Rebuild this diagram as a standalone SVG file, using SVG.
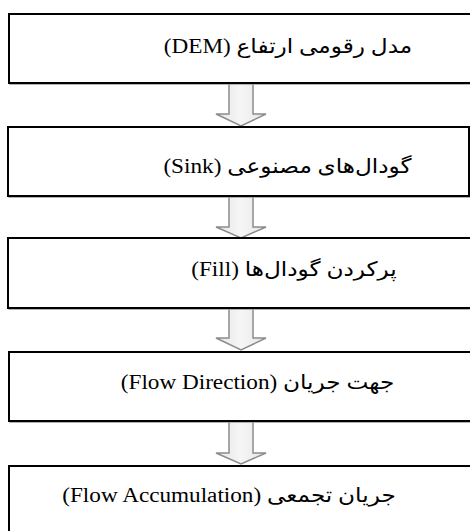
<svg xmlns="http://www.w3.org/2000/svg" width="470" height="531" viewBox="0 0 470 531">
<style>
.box{fill:#ffffff;stroke:#000000;stroke-width:2}
.shadow{fill:none;stroke:#9a9a9a;stroke-width:1.5}
.lbl{font-family:"Liberation Serif","DejaVu Serif","DejaVu Sans",serif;font-size:20px;fill:#000000;direction:rtl;text-anchor:middle}
.arrow{fill:url(#ag);stroke:#8c8c8c;stroke-width:1.5;stroke-linejoin:miter}
</style>
<defs>
<linearGradient id="ag" x1="0" y1="0" x2="1" y2="0">
<stop offset="0" stop-color="#e4e4e4"/>
<stop offset="0.5" stop-color="#f6f6f6"/>
<stop offset="1" stop-color="#e4e4e4"/>
</linearGradient>
</defs>
<rect width="470" height="531" fill="#ffffff"/>
<g id="connectors">
<path class="arrow" d="M229,83 H253 V114 H266 L241,126 L216,114 H229 Z"/>
<path class="arrow" d="M229,196 H253 V227 H266 L241,238 L216,227 H229 Z"/>
<path class="arrow" d="M229,308 H253 V338 H266 L241,350 L216,338 H229 Z"/>
<path class="arrow" d="M229,421 H253 V453 H266 L241,464 L216,453 H229 Z"/>
</g>
<g id="node1">
<rect class="shadow" x="10" y="15" width="470" height="69"/>
<rect class="box" x="9" y="14" width="470" height="69"/>
<text class="lbl" transform="translate(288,53) scale(1.16,1)" direction="rtl">مدل رقومی ارتفاع (DEM)</text>
</g>
<g id="node2">
<rect class="shadow" x="9" y="128" width="461" height="69"/>
<rect class="box" x="8" y="127" width="461" height="69"/>
<text class="lbl" transform="translate(287.5,173) scale(1.16,1)" direction="rtl">گودال‌های مصنوعی (Sink)</text>
</g>
<g id="node3">
<rect class="shadow" x="9" y="239" width="470" height="70"/>
<rect class="box" x="8" y="238" width="470" height="70"/>
<text class="lbl" transform="translate(294,276) scale(1.16,1)" direction="rtl">پرکردن گودال‌ها (Fill)</text>
</g>
<g id="node4">
<rect class="shadow" x="10" y="353" width="470" height="69"/>
<rect class="box" x="9" y="352" width="470" height="69"/>
<text class="lbl" transform="translate(257.5,389) scale(1.16,1)" direction="rtl">جهت جریان (Flow Direction)</text>
</g>
<g id="node5">
<rect class="shadow" x="10" y="467" width="470" height="80"/>
<rect class="box" x="9" y="466" width="470" height="80"/>
<text class="lbl" transform="translate(229,502) scale(1.16,1)" direction="rtl">جریان تجمعی (Flow Accumulation)</text>
</g>
</svg>
